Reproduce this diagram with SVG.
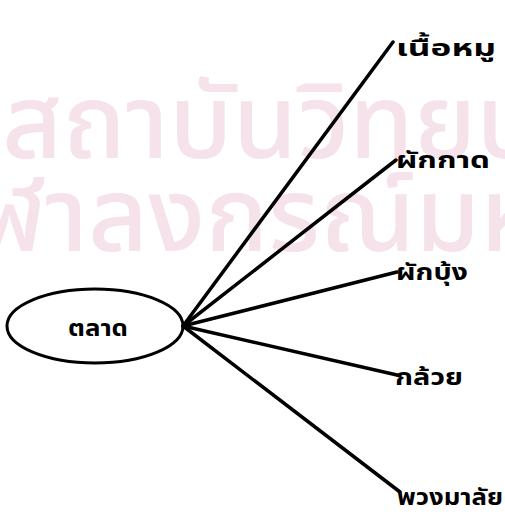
<svg xmlns="http://www.w3.org/2000/svg" width="505" height="518" viewBox="0 0 505 518">
<style>
.wm{font-family:"Noto Sans Thai","Noto Sans",sans-serif;font-size:104px;font-weight:500;fill:#f6e2eb}
.lbl{font-family:"Noto Sans Thai","Noto Sans",sans-serif;font-weight:bold;font-size:23px;fill:#000}
.edge{stroke:#000;stroke-width:3.5;fill:none;stroke-linecap:round}
</style>
<rect width="505" height="518" fill="#fff"/>
<g id="watermark">
<text class="wm" x="2" y="158">สถาบันวิทยบริการ</text>
<text class="wm" x="-82" y="251">จุฬาลงกรณ์มหาวิทยาลัย</text>
</g>
<g id="connectors">
<line class="edge" x1="183" y1="326" x2="393" y2="42"/>
<line class="edge" x1="183" y1="326" x2="396" y2="160"/>
<line class="edge" x1="183" y1="326" x2="397" y2="272"/>
<line class="edge" x1="183" y1="326" x2="397" y2="375"/>
<line class="edge" x1="183" y1="326" x2="400" y2="492"/>
</g>
<g id="n-market">
<ellipse cx="95" cy="326" rx="88" ry="37" fill="none" stroke="#000" stroke-width="3"/>
<text class="lbl" x="68" y="336" textLength="60" lengthAdjust="spacingAndGlyphs">ตลาด</text>
</g>
<g id="n-pork"><text class="lbl" x="396" y="56" textLength="100" lengthAdjust="spacingAndGlyphs">เนื้อหมู</text></g>
<g id="n-cabbage"><text class="lbl" x="396" y="168" textLength="94" lengthAdjust="spacingAndGlyphs">ผักกาด</text></g>
<g id="n-morningglory"><text class="lbl" x="396" y="280" textLength="72" lengthAdjust="spacingAndGlyphs">ผักบุ้ง</text></g>
<g id="n-banana"><text class="lbl" x="395" y="385" textLength="68" lengthAdjust="spacingAndGlyphs">กล้วย</text></g>
<g id="n-garland"><text class="lbl" x="397" y="505" textLength="106" lengthAdjust="spacingAndGlyphs">พวงมาลัย</text></g>
</svg>
